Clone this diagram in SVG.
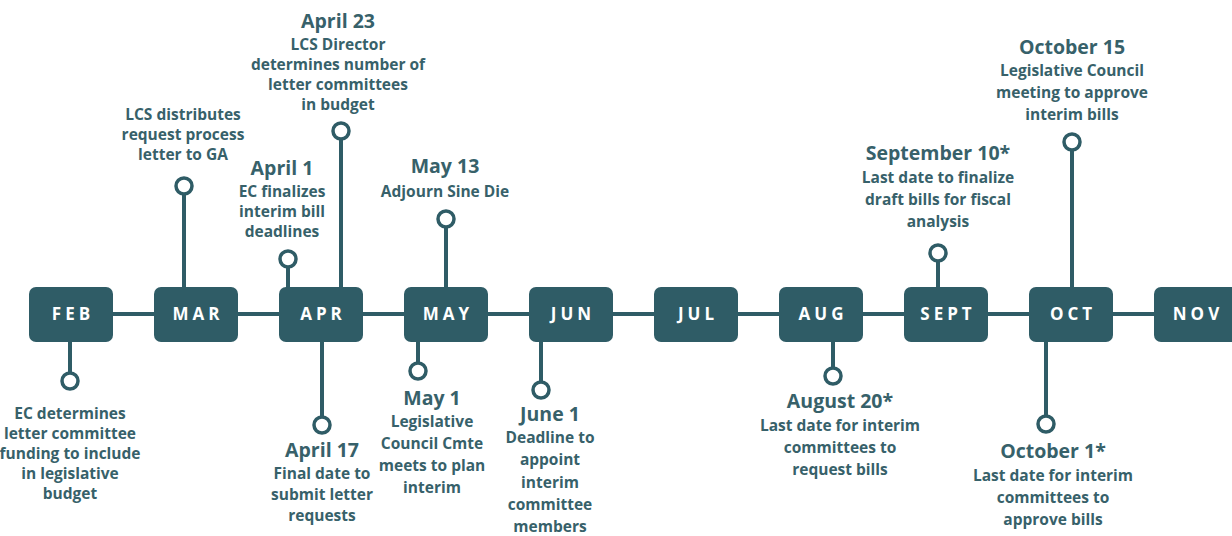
<svg xmlns="http://www.w3.org/2000/svg" width="1232" height="536" viewBox="0 0 1232 536">
<style>
.box{fill:#2f5c66}
.m{font-family:"Open Sans","DejaVu Sans",sans-serif;font-weight:700;font-size:17px;fill:#ffffff;letter-spacing:4px;text-anchor:middle}
.ln{stroke:#2f5c66;stroke-width:4;fill:none}
.dot{stroke:#2f5c66;stroke-width:3.5;fill:#ffffff}
.t{font-family:"Open Sans","DejaVu Sans",sans-serif;font-weight:700;font-size:19.5px;fill:#37616a;text-anchor:middle}
.b{font-family:"Open Sans","DejaVu Sans",sans-serif;font-weight:700;font-size:15.5px;fill:#37616a;text-anchor:middle}
</style>
<rect width="1232" height="536" fill="#ffffff"/>
<g id="connectors">
<line class="ln" x1="70" y1="314" x2="1200" y2="314"/>
<line class="ln" x1="70" y1="342" x2="70" y2="373"/>
<line class="ln" x1="184" y1="287" x2="184" y2="194"/>
<line class="ln" x1="288" y1="287" x2="288" y2="267"/>
<line class="ln" x1="341" y1="287" x2="341" y2="139"/>
<line class="ln" x1="322" y1="342" x2="322" y2="417"/>
<line class="ln" x1="446" y1="287" x2="446" y2="227"/>
<line class="ln" x1="418" y1="342" x2="418" y2="363"/>
<line class="ln" x1="541" y1="342" x2="541" y2="382"/>
<line class="ln" x1="833" y1="342" x2="833" y2="368"/>
<line class="ln" x1="938" y1="287" x2="938" y2="261"/>
<line class="ln" x1="1072" y1="287" x2="1072" y2="150"/>
<line class="ln" x1="1046" y1="342" x2="1046" y2="416"/>
<circle class="dot" cx="70" cy="381" r="8"/>
<circle class="dot" cx="184" cy="186" r="8"/>
<circle class="dot" cx="288" cy="259" r="8"/>
<circle class="dot" cx="341" cy="131" r="8"/>
<circle class="dot" cx="322" cy="425" r="8"/>
<circle class="dot" cx="446" cy="219" r="8"/>
<circle class="dot" cx="418" cy="371" r="8"/>
<circle class="dot" cx="541" cy="390" r="8"/>
<circle class="dot" cx="833" cy="376" r="8"/>
<circle class="dot" cx="938" cy="253" r="8"/>
<circle class="dot" cx="1072" cy="142" r="8"/>
<circle class="dot" cx="1046" cy="424" r="8"/>
</g>
<g id="feb"><rect class="box" x="29" y="287" width="84" height="55" rx="7"/><text class="m" x="73" y="320">FEB</text></g>
<g id="mar"><rect class="box" x="154" y="287" width="84" height="55" rx="7"/><text class="m" x="198" y="320">MAR</text></g>
<g id="apr"><rect class="box" x="279" y="287" width="84" height="55" rx="7"/><text class="m" x="323" y="320">APR</text></g>
<g id="may"><rect class="box" x="404" y="287" width="84" height="55" rx="7"/><text class="m" x="448" y="320">MAY</text></g>
<g id="jun"><rect class="box" x="529" y="287" width="84" height="55" rx="7"/><text class="m" x="573" y="320">JUN</text></g>
<g id="jul"><rect class="box" x="654" y="287" width="84" height="55" rx="7"/><text class="m" x="698" y="320">JUL</text></g>
<g id="aug"><rect class="box" x="779" y="287" width="84" height="55" rx="7"/><text class="m" x="823" y="320">AUG</text></g>
<g id="sept"><rect class="box" x="904" y="287" width="84" height="55" rx="7"/><text class="m" x="948" y="320">SEPT</text></g>
<g id="oct"><rect class="box" x="1029" y="287" width="84" height="55" rx="7"/><text class="m" x="1073" y="320">OCT</text></g>
<g id="nov"><rect class="box" x="1154" y="287" width="84" height="55" rx="7"/><text class="m" x="1198" y="320">NOV</text></g>
<g id="ev-feb">
<text class="b" x="70" y="419">EC determines</text>
<text class="b" x="70" y="439">letter committee</text>
<text class="b" x="70" y="459">funding to include</text>
<text class="b" x="70" y="479">in legislative</text>
<text class="b" x="70" y="499">budget</text>
</g>
<g id="ev-mar">
<text class="b" x="183" y="120">LCS distributes</text>
<text class="b" x="183" y="140">request process</text>
<text class="b" x="183" y="160">letter to GA</text>
</g>
<g id="ev-apr1">
<text class="t" x="282" y="175">April 1</text>
<text class="b" x="282" y="197">EC finalizes</text>
<text class="b" x="282" y="217">interim bill</text>
<text class="b" x="282" y="237">deadlines</text>
</g>
<g id="ev-apr23">
<text class="t" x="338" y="28">April 23</text>
<text class="b" x="338" y="50">LCS Director</text>
<text class="b" x="338" y="70">determines number of</text>
<text class="b" x="338" y="90">letter committees</text>
<text class="b" x="338" y="110">in budget</text>
</g>
<g id="ev-apr17">
<text class="t" x="322" y="457">April 17</text>
<text class="b" x="322" y="479">Final date to</text>
<text class="b" x="322" y="500">submit letter</text>
<text class="b" x="322" y="521">requests</text>
</g>
<g id="ev-may13">
<text class="t" x="445" y="173">May 13</text>
<text class="b" x="445" y="197">Adjourn Sine Die</text>
</g>
<g id="ev-may1">
<text class="t" x="432" y="405">May 1</text>
<text class="b" x="432" y="427">Legislative</text>
<text class="b" x="432" y="449">Council Cmte</text>
<text class="b" x="432" y="471">meets to plan</text>
<text class="b" x="432" y="493">interim</text>
</g>
<g id="ev-jun1">
<text class="t" x="550" y="421">June 1</text>
<text class="b" x="550" y="443">Deadline to</text>
<text class="b" x="550" y="465">appoint</text>
<text class="b" x="550" y="488">interim</text>
<text class="b" x="550" y="510">committee</text>
<text class="b" x="550" y="532">members</text>
</g>
<g id="ev-aug20">
<text class="t" x="840" y="408">August 20*</text>
<text class="b" x="840" y="431">Last date for interim</text>
<text class="b" x="840" y="453">committees to</text>
<text class="b" x="840" y="475">request bills</text>
</g>
<g id="ev-sep10">
<text class="t" x="938" y="160">September 10*</text>
<text class="b" x="938" y="183">Last date to finalize</text>
<text class="b" x="938" y="205">draft bills for fiscal</text>
<text class="b" x="938" y="227">analysis</text>
</g>
<g id="ev-oct15">
<text class="t" x="1072" y="54">October 15</text>
<text class="b" x="1072" y="76">Legislative Council</text>
<text class="b" x="1072" y="98">meeting to approve</text>
<text class="b" x="1072" y="120">interim bills</text>
</g>
<g id="ev-oct1">
<text class="t" x="1053" y="458">October 1*</text>
<text class="b" x="1053" y="481">Last date for interim</text>
<text class="b" x="1053" y="503">committees to</text>
<text class="b" x="1053" y="525">approve bills</text>
</g>
</svg>
